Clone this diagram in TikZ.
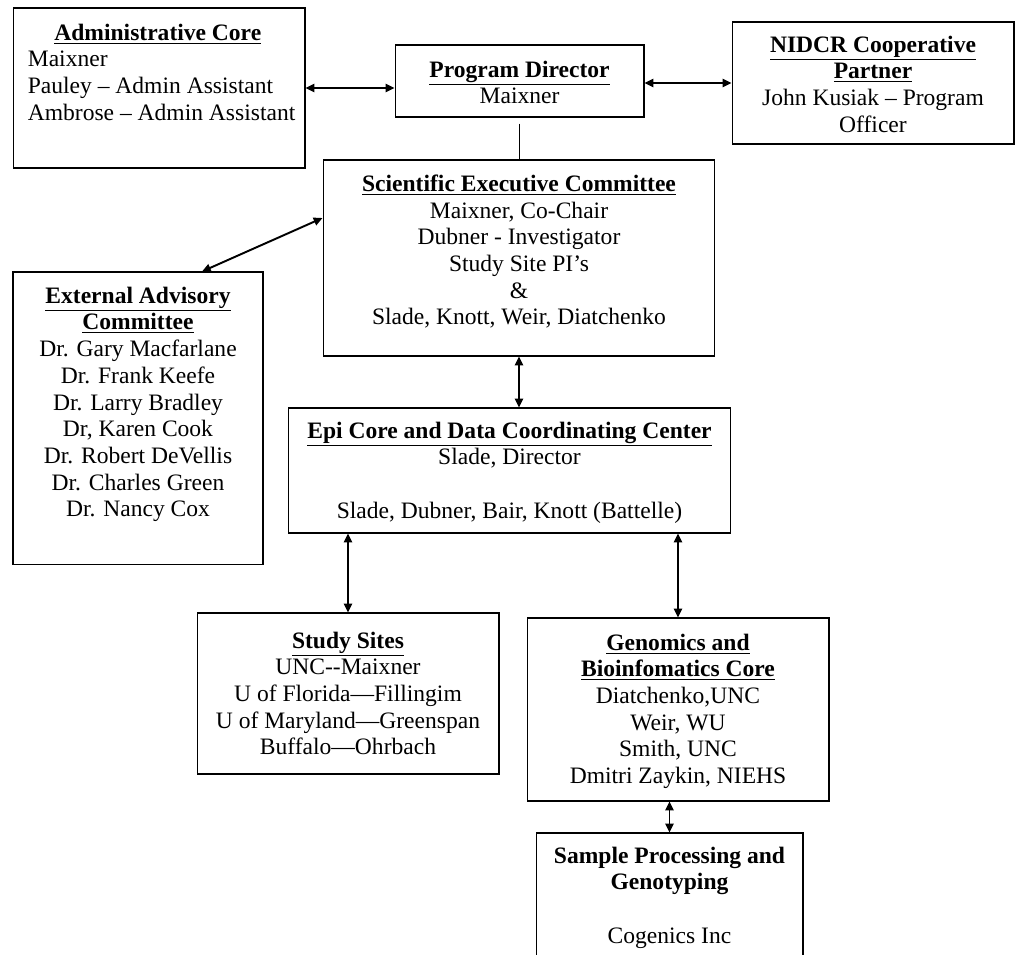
\documentclass[tikz,border=0pt]{standalone}
\usepackage{fontspec}
\setmainfont{Liberation Serif}
\usetikzlibrary{arrows.meta,calc,positioning}

\tikzset{
  unitbox/.style={draw, line width=0.6pt, inner sep=0pt},
  body/.style={inner sep=0pt, anchor=north, align=center,
    font={\fontsize{13.4}{15.2}\selectfont}},
  link/.style={{Triangle[length=5pt,width=4.6pt]}-{Triangle[length=5pt,width=4.6pt]}, line width=1.1pt}
}
\newcommand{\hd}[1]{\underline{\textbf{#1}}}

\begin{document}
\begin{tikzpicture}[x=0.02cm, y=-0.02cm]
    \clip (0,0) rectangle (1015,955);

    % boxes
    \node[unitbox, minimum width=5.84cm, minimum height=3.2cm] (adm) at (159,88) {};
    \node[unitbox, minimum width=4.98cm, minimum height=1.44cm] (pd) at (519.5,81) {};
    \node[unitbox, minimum width=5.64cm, minimum height=2.44cm] (nidcr) at (873,83) {};
    \node[unitbox, minimum width=7.84cm, minimum height=3.92cm] (sec) at (519,258) {};
    \node[unitbox, minimum width=5.0cm, minimum height=5.86cm] (eac) at (138,418.5) {};
    \node[unitbox, minimum width=8.86cm, minimum height=2.5cm] (epi) at (509.5,470.5) {};
    \node[unitbox, minimum width=6.04cm, minimum height=3.22cm] (sites) at (348,693.5) {};
    \node[unitbox, minimum width=6.04cm, minimum height=3.66cm] (gen) at (678,709.5) {};
    \node[unitbox, minimum width=5.34cm, minimum height=3.04cm] (samp) at (669.5,909) {};

    % texts
    \node[body, align=left, anchor=north west] (adm-txt) at ($(adm.north west)+(15,16)$)
      {\makebox[5.2cm][c]{\hd{Administrative Core}}\\Maixner\\Pauley – Admin Assistant\\Ambrose – Admin Assistant};
    \node[body] (pd-txt) at ($(pd.north)+(0,16)$) {\hd{Program Director}\\Maixner};
    \node[body] (nidcr-txt) at ($(nidcr.north)+(0,14)$)
      {\hd{NIDCR Cooperative}\\\hd{Partner}\\John Kusiak – Program\\Officer};
    \node[body] (sec-txt) at ($(sec.north)+(0,15)$)
      {\hd{Scientific Executive Committee}\\Maixner, Co-Chair\\Dubner - Investigator\\Study Site PI’s\\\&\\Slade, Knott, Weir, Diatchenko};
    \node[body] (eac-txt) at ($(eac.north)+(0,15)$)
      {\hd{External Advisory}\\\hd{Committee}\\Dr. Gary Macfarlane\\Dr. Frank Keefe\\Dr. Larry Bradley\\Dr, Karen Cook\\Dr. Robert DeVellis\\Dr. Charles Green\\Dr. Nancy Cox};
    \node[body] (epi-txt) at ($(epi.north)+(0,14)$)
      {\hd{Epi Core and Data Coordinating Center}\\Slade, Director\\[15.2pt]Slade, Dubner, Bair, Knott (Battelle)};
    \node[body] (sites-txt) at ($(sites.north)+(0,19)$)
      {\hd{Study Sites}\\UNC-{}-Maixner\\U of Florida—Fillingim\\U of Maryland—Greenspan\\Buffalo—Ohrbach};
    \node[body] (gen-txt) at ($(gen.north)+(0,16)$)
      {\hd{Genomics and}\\\hd{Bioinfomatics Core}\\Diatchenko,UNC\\Weir, WU\\Smith, UNC\\Dmitri Zaykin, NIEHS};
    \node[body] (samp-txt) at ($(samp.north)+(0,14)$)
      {\textbf{Sample Processing and}\\\textbf{Genotyping}\\[15.2pt]Cogenics Inc};

    % connectors
    \draw[link] (adm.east) -- (adm.east -| pd.west);
    \draw[link] (pd.east |- nidcr.west) -- (nidcr.west);
    \draw[line width=0.6pt] ($(pd.south)+(0,6)$) -- (pd.south |- sec.north);
    \draw[link] ($(eac.north)+(64,0)$) -- ($(sec.west)+(0,-40)$);
    \draw[link] (sec.south) -- (sec.south |- epi.north);
    \draw[link] (sites.north |- epi.south) -- (sites.north);
    \draw[link] (gen.north |- epi.south) -- (gen.north);
    \draw[link] (samp.north |- gen.south) -- (samp.north);
\end{tikzpicture}
\end{document}
